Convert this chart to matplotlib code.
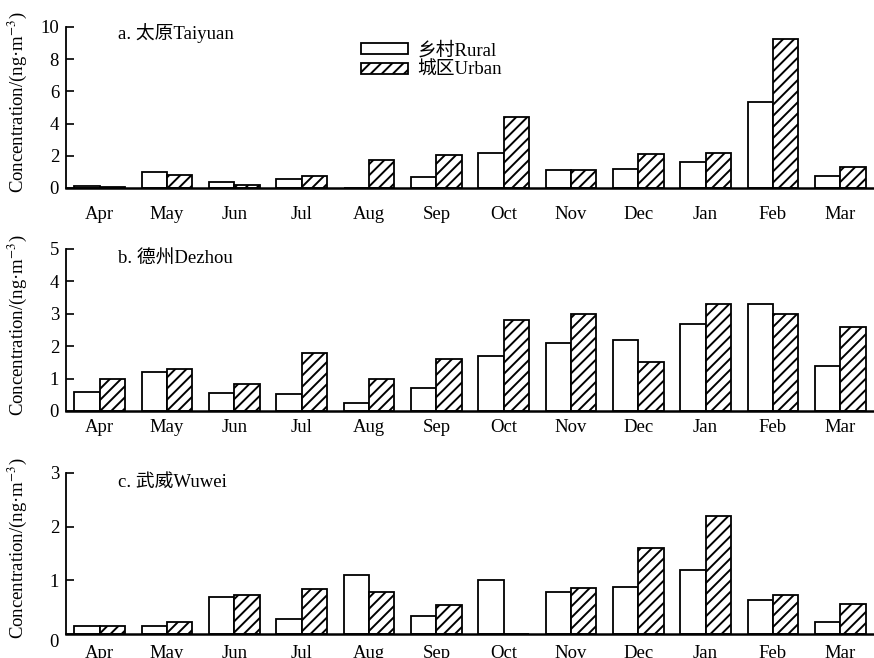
import matplotlib.pyplot as plt
import numpy as np

plt.rcParams['font.family'] = ['Liberation Serif', 'Noto Sans CJK SC']
plt.rcParams['hatch.linewidth'] = 1.4
plt.rcParams['mathtext.fontset'] = 'stix'

months = ["Apr", "May", "Jun", "Jul", "Aug", "Sep", "Oct", "Nov", "Dec", "Jan", "Feb", "Mar"]

taiyuan_rural = [0.12, 1.0, 0.35, 0.58, 0.0, 0.68, 2.2, 1.1, 1.2, 1.6, 5.35, 0.72]
taiyuan_urban = [0.06, 0.79, 0.2, 0.77, 1.72, 2.03, 4.43, 1.1, 2.13, 2.2, 9.25, 1.32]

dezhou_rural = [0.59, 1.2, 0.54, 0.52, 0.26, 0.72, 1.7, 2.1, 2.2, 2.7, 3.3, 1.4]
dezhou_urban = [0.99, 1.3, 0.83, 1.8, 0.99, 1.6, 2.82, 3.0, 1.5, 3.3, 3.0, 2.6]

wuwei_rural = [0.15, 0.15, 0.69, 0.28, 1.1, 0.34, 1.0, 0.79, 0.87, 1.2, 0.63, 0.22]
wuwei_urban = [0.14, 0.22, 0.73, 0.84, 0.79, 0.54, 0.0, 0.85, 1.6, 2.2, 0.73, 0.55]

panels = [
    ("a. 太原Taiyuan", taiyuan_rural, taiyuan_urban, 10, [0, 2, 4, 6, 8, 10]),
    ("b. 德州Dezhou", dezhou_rural, dezhou_urban, 5, [0, 1, 2, 3, 4, 5]),
    ("c. 武威Wuwei", wuwei_rural, wuwei_urban, 3, [0, 1, 2, 3]),
]

# axes boxes in figure fractions [left, bottom, width, height]
boxes = [
    [0.0755, 0.7143, 0.9245, 0.2447],
    [0.0755, 0.3754, 0.9245, 0.2462],
    [0.0755, 0.0365, 0.9245, 0.2447],
]
text_y = [0.963, 0.944, 0.944]
xpads = [13, 6, 8]
fs = 13.5

fig = plt.figure(figsize=(8.74, 6.58), dpi=100)
x = np.arange(len(months))
w = 0.378

for i, (title, rural, urban, ymax, yticks) in enumerate(panels):
    ax = fig.add_axes(boxes[i])
    ax.bar(x - w / 2, rural, w, color="white", edgecolor="black", linewidth=1.3,
           label="乡村Rural")
    ax.bar(x + w / 2, urban, w, color="white", edgecolor="black", linewidth=1.3,
           hatch="///", label="城区Urban")
    ax.set_xlim(-0.5, 11.5)
    ax.set_ylim(0, ymax)
    ax.set_yticks(yticks)
    ax.set_xticks(x)
    ax.set_xticklabels(months)
    ax.tick_params(axis="y", direction="in", length=6, width=1.2, pad=5, labelsize=fs)
    ax.tick_params(axis="x", length=0, pad=xpads[i], labelsize=fs)
    ax.spines["top"].set_visible(False)
    ax.spines["right"].set_visible(False)
    ax.spines["left"].set_linewidth(1.3)
    ax.spines["bottom"].set_linewidth(1.8)
    ax.set_ylabel("Concentration/(ng·m$^{-3}$)", fontsize=fs)
    ax.yaxis.set_label_coords(-0.046, 0.53)
    ax.text(0.064, text_y[i], title, transform=ax.transAxes, fontsize=fs,
            va="center", ha="left")
    if i == 2:
        ax.get_yticklabels()[0].set_va("top")
    if i == 0:
        ax.legend(loc="upper left", bbox_to_anchor=(0.365, 0.91), frameon=False,
                  fontsize=fs, handlelength=2.5, handleheight=0.55,
                  handletextpad=0.5, labelspacing=0.15, borderpad=0,
                  borderaxespad=0)

fig.savefig("out.png", dpi=100)
